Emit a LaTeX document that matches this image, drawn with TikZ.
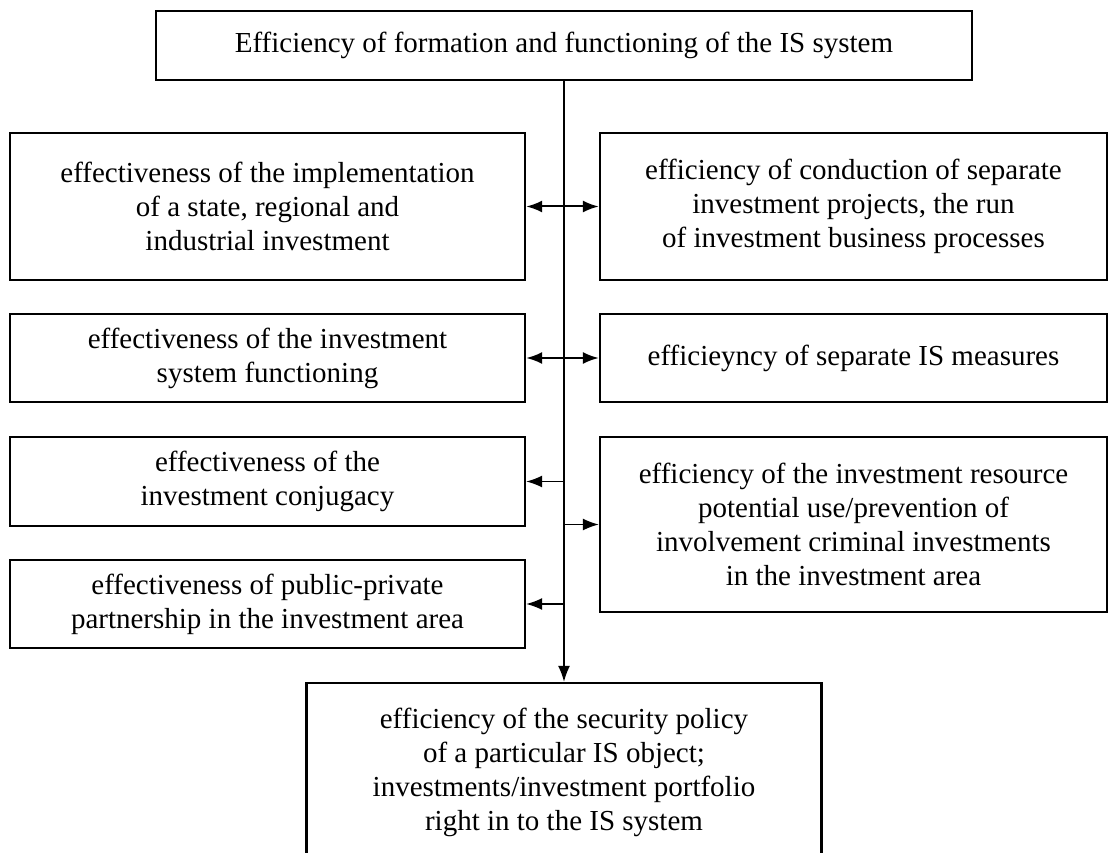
\documentclass[tikz,border=0pt]{standalone}
\usepackage{fontspec}
\setmainfont{Liberation Serif}
\usetikzlibrary{arrows.meta}
\begin{document}
\begin{tikzpicture}[x=1pt,y=-1pt]
			\tikzstyle{every node}+=[inner sep=0pt]
			\tikzstyle{box}=[draw=black, line width=2.4pt, align=center, font=\fontsize{29}{34}\selectfont]
			\tikzstyle{link}=[black, line width=1.4pt, -{Latex[length=16pt,width=12pt]}]
			\tikzstyle{both}=[black, line width=2pt, {Latex[length=16pt,width=12pt]}-{Latex[length=16pt,width=12pt]}]
			\useasboundingbox (0,0) rectangle (1109,853);
			\node [box, minimum width=816pt, minimum height=69pt] (top) at (564,45.5) {Efficiency of formation and functioning of the IS system};
			\node [box, minimum width=515pt, minimum height=147pt] (l1) at (267.5,206.5) {effectiveness of the implementation\\of a state, regional and\\industrial investment};
			\node [box, minimum width=507pt, minimum height=147pt] (r1) at (853.5,206.5) {efficiency of conduction of separate\\investment projects, the run\\of investment business processes};
			\node [box, minimum width=515pt, minimum height=88pt] (l2) at (267.5,358) {effectiveness of the investment\\system functioning};
			\node [box, minimum width=507pt, minimum height=88pt] (r2) at (853.5,358) {efficieyncy of separate IS measures};
			\node [box, minimum width=515pt, minimum height=89pt] (l3) at (267.5,481.5) {effectiveness of the\\investment conjugacy};
			\node [box, minimum width=507pt, minimum height=175pt] (r3) at (853.5,524.5) {efficiency of the investment resource\\potential use/prevention of\\involvement criminal investments\\in the investment area};
			\node [box, minimum width=515pt, minimum height=88pt] (l4) at (267.5,604) {effectiveness of public-private\\partnership in the investment area};
			\node [box, minimum width=515pt, minimum height=178pt] (bot) at (564,772) {efficiency of the security policy\\of a particular IS object;\\investments/investment portfolio\\right in to the IS system};
			\draw [link] (top.south) -- (bot.north);
			\draw [both] (l1.east) -- (r1.west);
			\draw [both] (l2.east) -- (r2.west);
			\draw [link] (top.south |- l3.east) -- (l3.east);
			\draw [link] (top.south |- r3.west) -- (r3.west);
			\draw [link] (top.south |- l4.east) -- (l4.east);
		\end{tikzpicture}
\end{document}
